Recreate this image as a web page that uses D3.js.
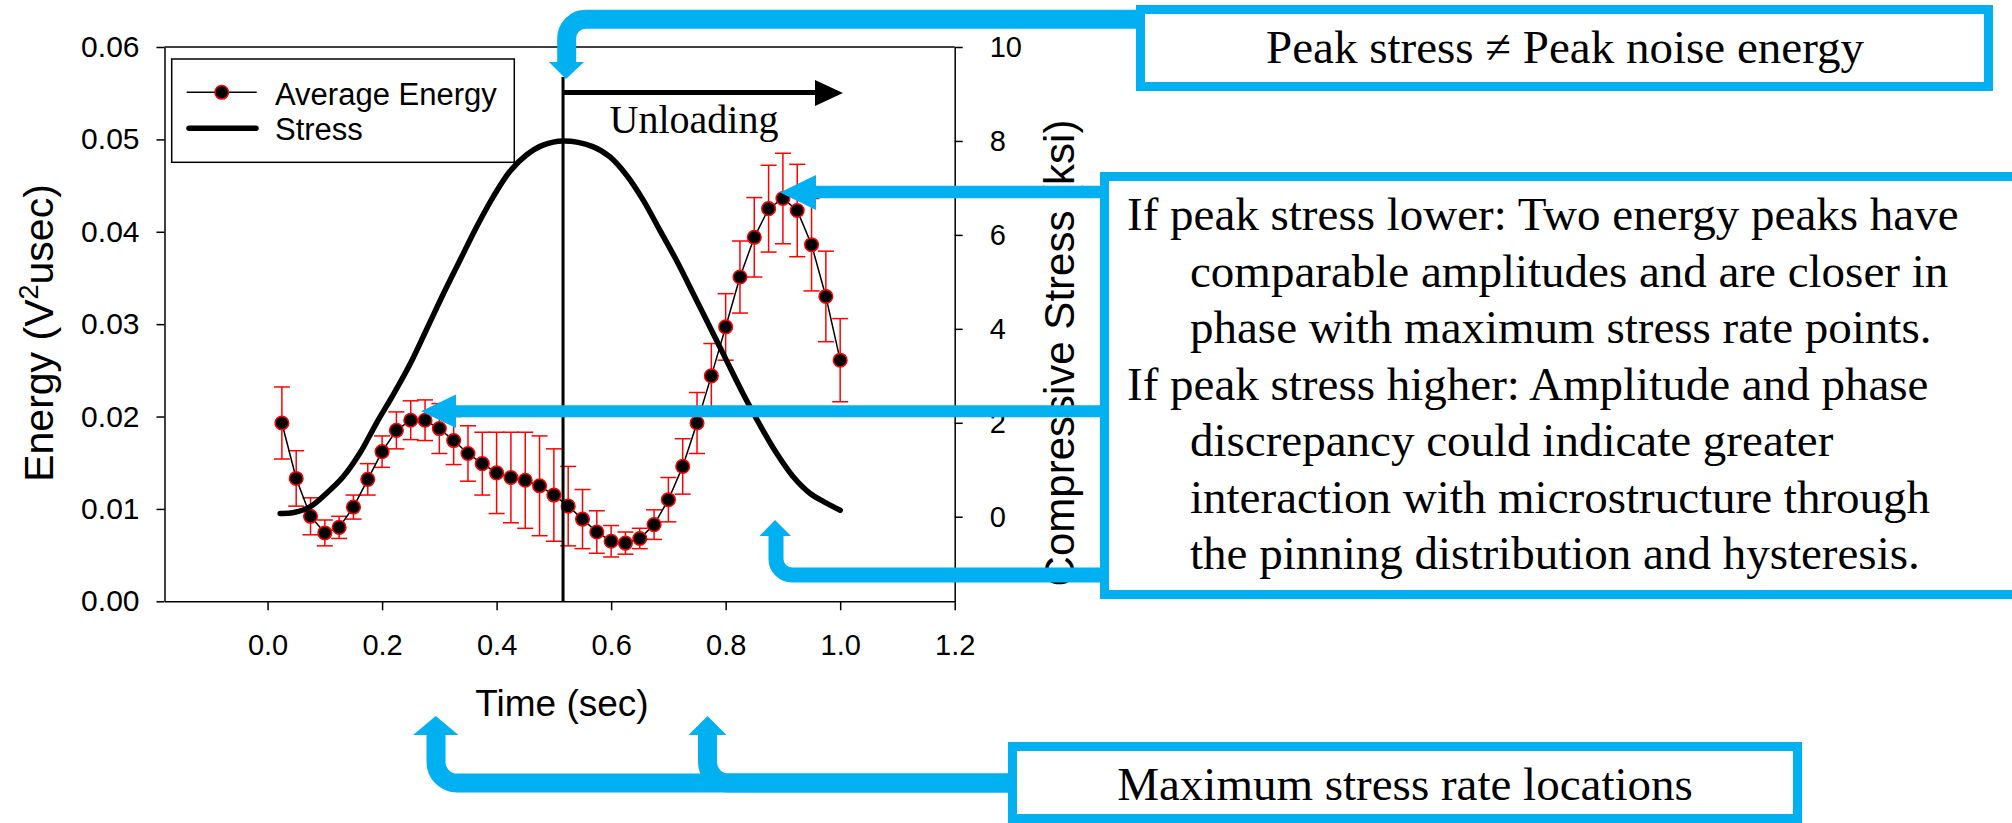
<!DOCTYPE html>
<html><head><meta charset="utf-8">
<script src="https://cdn.jsdelivr.net/npm/d3@7"></script>
<style>body{margin:0;background:#fff;} svg{display:block;}</style>
</head><body><svg id="chart" width="2012" height="823"></svg>
<script>
// ---- data ----
const time = [0.025,0.05,0.075,0.1,0.125,0.15,0.175,0.2,0.225,0.25,0.275,0.3,0.325,0.35,0.375,0.4,0.425,0.45,0.475,0.5,
              0.525,0.55,0.575,0.6,0.625,0.65,0.675,0.7,0.725,0.75,0.775,0.8,0.825,0.85,0.875,0.9,0.925,0.95,0.975,1.0];
const energy = [0.0193,0.0133,0.0092,0.0074,0.0080,0.0102,0.0132,0.0162,0.0185,0.0196,0.0196,0.0187,0.0174,0.0160,0.0149,0.0139,0.0134,0.0131,0.0125,0.0115,
                0.0103,0.0089,0.0075,0.0065,0.0063,0.0068,0.0083,0.0110,0.0146,0.0193,0.0244,0.0297,0.0351,0.0394,0.0425,0.0436,0.0423,0.0386,0.0330,0.0261];
const energyErr = [0.0039,0.0030,0.0020,0.0014,0.0012,0.0013,0.0017,0.0017,0.0020,0.0021,0.0022,0.0027,0.0026,0.0030,0.0034,0.0044,0.0049,0.0052,0.0054,0.0050,
                   0.0043,0.0032,0.0023,0.0017,0.0012,0.0011,0.0016,0.0024,0.0030,0.0033,0.0035,0.0036,0.0039,0.0043,0.0047,0.0049,0.0050,0.0050,0.0049,0.0045];
const stressTime = [0.022,0.044,0.074,0.103,0.132,0.161,0.19,0.219,0.248,0.277,0.306,0.336,0.365,0.394,0.423,0.452,0.481,0.516,
                    0.568,0.598,0.627,0.656,0.685,0.714,0.743,0.772,0.801,0.83,0.86,0.889,0.918,0.947,0.976,1.0];
const stress = [0.07,0.085,0.21,0.50,0.85,1.35,1.99,2.59,3.23,3.97,4.72,5.46,6.17,6.81,7.35,7.70,7.91,8.0,
                7.88,7.66,7.27,6.74,6.10,5.46,4.76,4.05,3.34,2.63,1.95,1.35,0.85,0.50,0.29,0.14];
const xTicks = [0.0,0.2,0.4,0.6,0.8,1.0,1.2];
const yLeftTicks = [0.00,0.01,0.02,0.03,0.04,0.05,0.06];
const yRightTicks = [0,2,4,6,8,10];
const peakTime = 0.516;
const legendLabels = ["Average Energy","Stress"];
const boxTop = "Peak stress \u2260 Peak noise energy";
const boxMid = [
  ["If peak stress lower: Two energy peaks have",0],
  ["comparable amplitudes and are closer in",1],
  ["phase with maximum stress rate points.",1],
  ["If peak stress higher: Amplitude and phase",0],
  ["discrepancy could indicate greater",1],
  ["interaction with microstructure through",1],
  ["the pinning distribution and hysteresis.",1]
];
const boxBottom = "Maximum stress rate locations";

// ---- layout ----
const svg = d3.select("#chart");
const L = 164.5, R = 954.7, T = 47, B = 601.3;
const x = d3.scaleLinear().domain([-0.18, 1.2]).range([L, R]);
const yL = d3.scaleLinear().domain([0, 0.06]).range([B, T]);
const yR = d3.scaleLinear().domain([-1.8, 10]).range([B, T]);
const sans = "'Liberation Sans', Arial, sans-serif";
const serif = "'Liberation Serif', 'Times New Roman', serif";
const BLUE = "#00B0F0";

const data = time.map((t,i)=>({t, e:energy[i], err:energyErr[i]}));
const sdata = stressTime.map((t,i)=>({t, s:stress[i]}));

// frame top
svg.append("line").attr("x1",L).attr("x2",R).attr("y1",T).attr("y2",T).attr("stroke","#000").attr("stroke-width",1.5);

// error bars
const eb = svg.append("g").attr("stroke","#ff0000").attr("stroke-width",1.5);
data.forEach(d=>{
  const cx = x(d.t), y1 = yL(d.e+d.err), y2 = yL(d.e-d.err);
  eb.append("line").attr("x1",cx).attr("x2",cx).attr("y1",y1).attr("y2",y2);
  eb.append("line").attr("x1",cx-8).attr("x2",cx+8).attr("y1",y1).attr("y2",y1);
  eb.append("line").attr("x1",cx-8).attr("x2",cx+8).attr("y1",y2).attr("y2",y2);
});
// energy line
svg.append("path").datum(data).attr("fill","none").attr("stroke","#000").attr("stroke-width",1.5)
  .attr("d", d3.line().x(d=>x(d.t)).y(d=>yL(d.e)));
// markers
svg.append("g").selectAll("circle").data(data).join("circle")
  .attr("cx",d=>x(d.t)).attr("cy",d=>yL(d.e)).attr("r",6.8)
  .attr("fill","#000").attr("stroke","#ff0000").attr("stroke-width",1.5);
// stress curve
svg.append("path").datum(sdata).attr("fill","none").attr("stroke","#000").attr("stroke-width",5.5)
  .attr("stroke-linecap","round").attr("stroke-linejoin","round")
  .attr("d", d3.line().curve(d3.curveCatmullRom).x(d=>x(d.t)).y(d=>yR(d.s)));

// peak vertical line
svg.append("line").attr("x1",x(peakTime)).attr("x2",x(peakTime)).attr("y1",77).attr("y2",B)
  .attr("stroke","#000").attr("stroke-width",3);
// unloading arrow
svg.append("line").attr("x1",x(peakTime)).attr("x2",816).attr("y1",92.5).attr("y2",92.5)
  .attr("stroke","#000").attr("stroke-width",5);
svg.append("polygon").attr("points","815,80 815,106 843,93").attr("fill","#000");
svg.append("text").attr("x",694).attr("y",133).attr("text-anchor","middle")
  .attr("font-family",serif).attr("font-size",40).text("Unloading");

// axes
const ax = svg.append("g").attr("transform",`translate(0,${B})`)
  .call(d3.axisBottom(x).tickValues(xTicks).tickSize(9).tickSizeOuter(0).tickPadding(24).tickFormat(d3.format(".1f")));
const ayl = svg.append("g").attr("transform",`translate(${L},0)`)
  .call(d3.axisLeft(yL).tickValues(yLeftTicks).tickSize(8).tickSizeOuter(0).tickPadding(17).tickFormat(d3.format(".2f")));
const ayr = svg.append("g").attr("transform",`translate(${R},0)`)
  .call(d3.axisRight(yR).tickValues(yRightTicks).tickSize(8).tickSizeOuter(0).tickPadding(27).tickFormat(d3.format("d")));
[ax,ayl,ayr].forEach(g=>{
  g.selectAll("path,line").attr("stroke","#000").attr("stroke-width",1.5);
  g.selectAll("text").attr("font-family",sans).attr("fill","#000");
});
ax.selectAll("text").attr("font-size",29);
ayl.selectAll("text").attr("font-size",30);
ayr.selectAll("text").attr("font-size",29);

// axis titles
svg.append("text").attr("x",562).attr("y",716).attr("text-anchor","middle")
  .attr("font-family",sans).attr("font-size",37).text("Time (sec)");
const lt = svg.append("text").attr("transform","translate(53,333) rotate(-90)").attr("text-anchor","middle")
  .attr("font-family",sans).attr("font-size",41);
lt.append("tspan").text("Energy (V");
lt.append("tspan").attr("font-size",27).attr("dy",-15).text("2");
lt.append("tspan").attr("dy",15).text("usec)");
svg.append("text").attr("transform","translate(1074,353) rotate(-90)").attr("text-anchor","middle")
  .attr("font-family",sans).attr("font-size",42).text("Compressive Stress (ksi)");

// legend
const lg = svg.append("g");
lg.append("rect").attr("x",171.7).attr("y",59).attr("width",342.6).attr("height",103.3)
  .attr("fill","#fff").attr("stroke","#000").attr("stroke-width",1.5);
lg.append("line").attr("x1",186.7).attr("x2",256.7).attr("y1",92.3).attr("y2",92.3).attr("stroke","#000").attr("stroke-width",1.5);
lg.append("circle").attr("cx",221.7).attr("cy",92.3).attr("r",6.8).attr("fill","#000").attr("stroke","#ff0000").attr("stroke-width",1.5);
lg.append("line").attr("x1",189).attr("x2",256).attr("y1",128.3).attr("y2",128.3).attr("stroke","#000").attr("stroke-width",5.5).attr("stroke-linecap","round");
lg.append("text").attr("x",275).attr("y",105).attr("font-family",sans).attr("font-size",31).text(legendLabels[0]);
lg.append("text").attr("x",275).attr("y",140).attr("font-family",sans).attr("font-size",31).text(legendLabels[1]);

// ---- blue annotations ----
const an = svg.append("g");
function bar(d, w){ an.append("path").attr("d",d).attr("fill","none").attr("stroke",BLUE).attr("stroke-width",w); }
function head(pts){ an.append("polygon").attr("points",pts).attr("fill",BLUE); }
// top arrow
bar("M1140,19.3 H585.7 A19,19 0 0 0 566.7,38.3 V62.5", 19);
head("549,62 584,62 566,79");
// arrow A (to energy peak)
bar("M1104,192 H815", 12.5);
head("816,175 816,210 780,192.5");
// arrow B
bar("M1104,411.3 H455", 12);
head("456,394.5 456,428 421,411.3");
// arrow C
bar("M1104,575 H792 A16,16 0 0 1 776,559 V535", 15);
head("759.5,536 791,536 775,520");
// bottom arrows
bar("M1012,783 H457 A21,21 0 0 1 436,762 V734", 19);
head("413,735 458.5,735 435.7,716");
bar("M1012,783 H728.5 A21,21 0 0 1 707.5,762 V734", 19);
head("688.5,735 726.5,735 707.5,716");

// boxes
an.append("rect").attr("x",1140.5).attr("y",9.5).attr("width",848).attr("height",77)
  .attr("fill","#fff").attr("stroke",BLUE).attr("stroke-width",9);
an.append("rect").attr("x",1104.5).attr("y",176.5).attr("width",950).attr("height",418)
  .attr("fill","#fff").attr("stroke",BLUE).attr("stroke-width",9);
an.append("rect").attr("x",1012.5).attr("y",746.5).attr("width",785).attr("height",72)
  .attr("fill","#fff").attr("stroke",BLUE).attr("stroke-width",9);

an.append("text").attr("x",1565).attr("y",63).attr("text-anchor","middle")
  .attr("font-family",serif).attr("font-size",47).text(boxTop);
boxMid.forEach((ln,i)=>{
  an.append("text").attr("x", ln[1] ? 1190 : 1127).attr("y", 230 + i*56.5)
    .attr("font-family",serif).attr("font-size",47).text(ln[0]);
});
an.append("text").attr("x",1405).attr("y",800).attr("text-anchor","middle")
  .attr("font-family",serif).attr("font-size",47).text(boxBottom);
</script>
</body></html>
